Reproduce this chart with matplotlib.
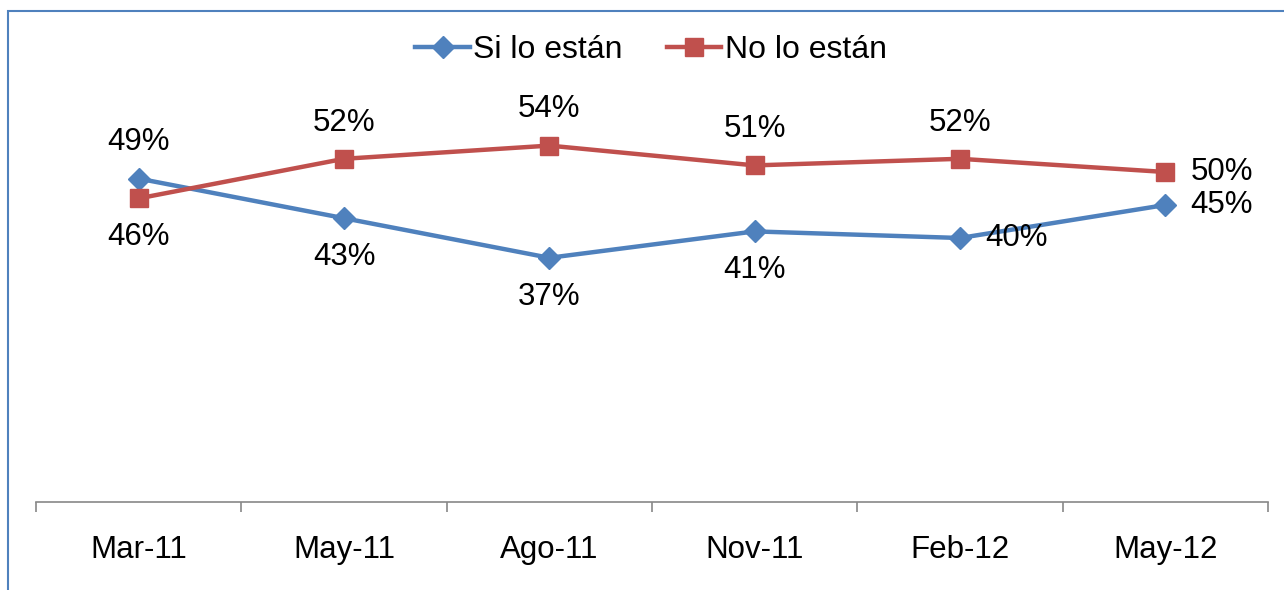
import matplotlib
matplotlib.use("Agg")
import matplotlib.pyplot as plt
from matplotlib.patches import Rectangle

categories = ["Mar-11", "May-11", "Ago-11", "Nov-11", "Feb-12", "May-12"]
si_values = [49, 43, 37, 41, 40, 45]
no_values = [46, 52, 54, 51, 52, 50]
si_label_pos = ["above", "below", "below", "below", "right", "right"]
no_label_pos = ["below", "above", "above", "above", "above", "right"]

plt.rcParams['font.family'] = ['Liberation Sans', 'DejaVu Sans']

W, H = 1284, 590
fig = plt.figure(figsize=(W / 100, H / 100), dpi=100)
fig.patch.set_facecolor("white")

# border of the chart area (extends beyond right/bottom)
fig.add_artist(Rectangle((8 / W, -0.1), 1.2, (H - 11) / H + 0.1,
                         transform=fig.transFigure, fill=False,
                         edgecolor="#4F81BD", linewidth=1.5))

left, right = 36 / W, 1268 / W
bottom = 1 - 502 / H
top = 1 - 40 / H
ax = fig.add_axes([left, bottom, right - left, top - bottom])
ax.set_xlim(-0.5, len(categories) - 0.5)
ax.set_ylim(0, 70)

blue = "#4F81BD"
red = "#C0504D"
x = list(range(len(categories)))
ax.plot(x, si_values, color=blue, lw=3.2, marker="D", markersize=11,
        label="Si lo están", zorder=3, clip_on=False)
ax.plot(x, no_values, color=red, lw=3.2, marker="s", markersize=13,
        label="No lo están", zorder=3, clip_on=False)

offsets = {"above": (0, 26, "center", "center"),
           "below": (0, -28, "center", "center"),
           "right": (18, 0, "left", "center")}
for vals, poss in ((si_values, si_label_pos), (no_values, no_label_pos)):
    for xi, v, p in zip(x, vals, poss):
        dx, dy, ha, va = offsets[p]
        ax.annotate(f"{v}%", (xi, v), xytext=(dx, dy), textcoords="offset points",
                    ha=ha, va=va, fontsize=22.5, color="black")

for s in ["top", "right", "left"]:
    ax.spines[s].set_visible(False)
ax.spines["bottom"].set_color("#888888")
ax.spines["bottom"].set_linewidth(1.2)
ax.set_yticks([])
# category boundary ticks
ax.set_xticks([i - 0.5 for i in range(len(categories) + 1)], minor=False)
ax.set_xticklabels([])
ax.tick_params(axis="x", which="major", length=7, width=1.2, color="#888888", direction="out")
ax.set_xticks(x, minor=True)
ax.set_xticklabels(categories, minor=True, fontsize=22.5)
ax.tick_params(axis="x", which="minor", length=0, pad=24)

leg = fig.legend(loc="center", bbox_to_anchor=(651 / W, 1 - 50 / H), ncol=2,
                 frameon=False, fontsize=23, handlelength=1.7, handletextpad=0.1,
                 columnspacing=1.4)

fig.savefig("out.png", dpi=100, facecolor="white")
